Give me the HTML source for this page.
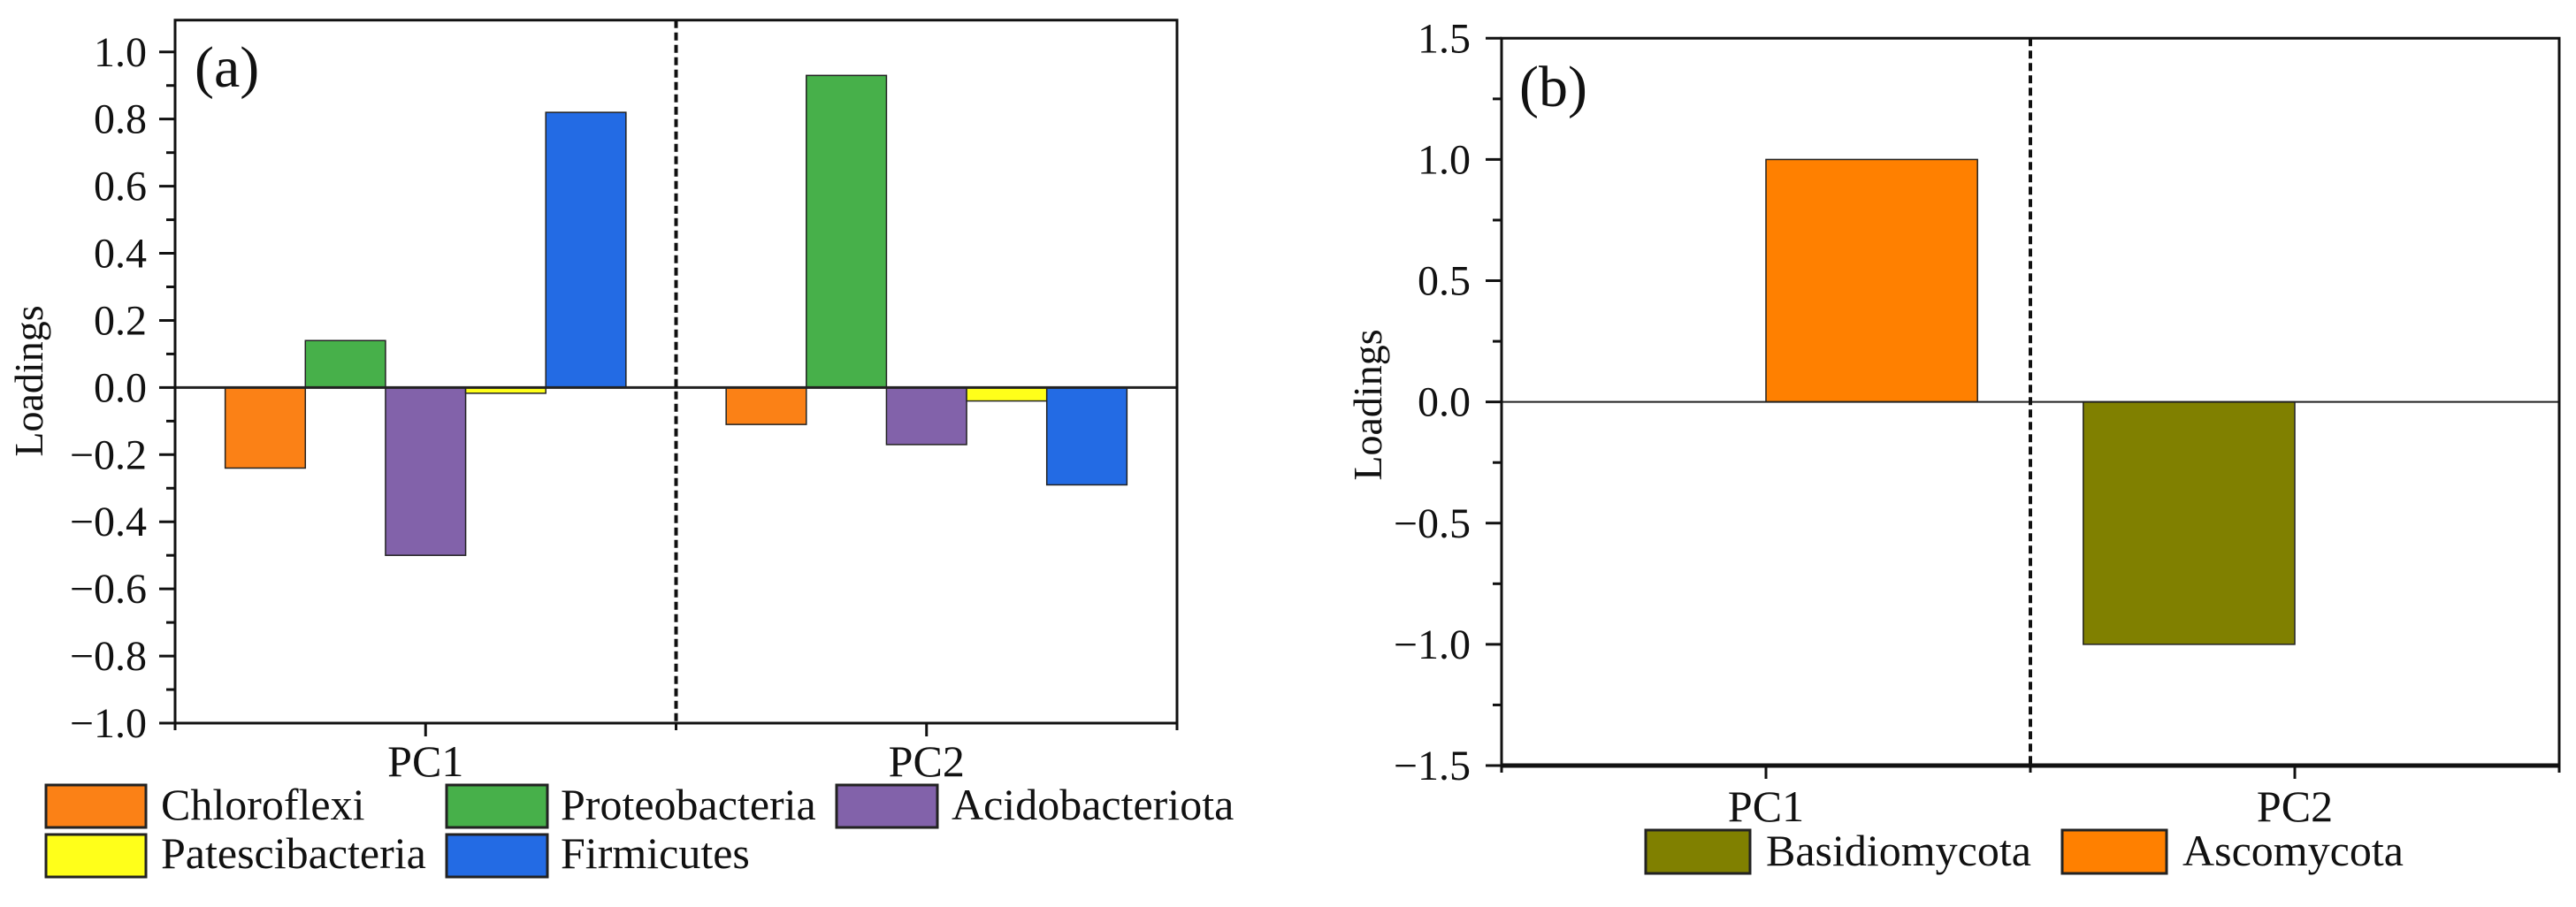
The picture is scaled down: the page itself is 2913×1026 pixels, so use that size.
<!DOCTYPE html>
<html><head><meta charset="utf-8"><style>
html,body{margin:0;padding:0;background:#fff;}
svg{display:block;}
text{font-family:"Liberation Serif","Times New Roman",serif;fill:#111;}
</style></head><body>
<svg id="fig" width="2913" height="1026" viewBox="0 0 2913 1026" xmlns="http://www.w3.org/2000/svg">
<g id="ga"></g>
<g id="gb"></g>
</svg>
<script>
// ---- Chart (a) data ----
const catsA = ["PC1", "PC2"];
const seriesA = ["Chloroflexi", "Proteobacteria", "Acidobacteriota", "Patescibacteria", "Firmicutes"];
const chloroflexi = [-0.24, -0.11];
const proteobacteria = [0.14, 0.93];
const acidobacteriota = [-0.50, -0.17];
const patescibacteria = [-0.017, -0.04];
const firmicutes = [0.82, -0.29];
const ticksA = [-1.0, -0.8, -0.6, -0.4, -0.2, 0.0, 0.2, 0.4, 0.6, 0.8, 1.0];
const tickLabelsA = ["\u22121.0", "\u22120.8", "\u22120.6", "\u22120.4", "\u22120.2", "0.0", "0.2", "0.4", "0.6", "0.8", "1.0"];
// ---- Chart (b) data ----
const catsB = ["PC1", "PC2"];
const seriesB = ["Basidiomycota", "Ascomycota"];
const basidiomycota = [0.0, -1.0];
const ascomycota = [1.0, 0.0];
const ticksB = [-1.5, -1.0, -0.5, 0.0, 0.5, 1.0, 1.5];
const tickLabelsB = ["\u22121.5", "\u22121.0", "\u22120.5", "0.0", "0.5", "1.0", "1.5"];

const NS = "http://www.w3.org/2000/svg";
function mk(parent, tag, attrs, txt) {
  const e = document.createElementNS(NS, tag);
  for (const k in attrs) e.setAttribute(k, attrs[k]);
  if (txt !== undefined) e.textContent = txt;
  parent.appendChild(e);
  return e;
}

function drawChart(g, cfg) {
  const {x0, x1, yTop, yBot, vMin, vMax, cats, series, values, colors, ticks, tickLabels, minorStep} = cfg;
  const ys = v => yBot - (v - vMin) / (vMax - vMin) * (yBot - yTop);
  const unit = (x1 - x0) / cats.length;
  const xc = i => x0 + unit * (i + 0.5);
  const groupW = unit * 0.8, bw = groupW / series.length;
  for (let s = 0; s < series.length; s++) {
    for (let i = 0; i < cats.length; i++) {
      const v = values[s][i];
      if (v === 0) continue;
      const bx = xc(i) - groupW / 2 + s * bw;
      const yA = ys(Math.max(v, 0)), yB = ys(Math.min(v, 0));
      const r = mk(g, "rect", {x: bx, y: yA, width: bw, height: Math.max(yB - yA, 0.5), fill: colors[s], stroke: "#222", "stroke-width": 1.5});
      
      
    }
  }
  const zl = mk(g, "line", {x1: x0, x2: x1, y1: ys(0), y2: ys(0), stroke: "#222", "stroke-width": cfg.zeroW});
  
  
  const dv = mk(g, "line", {x1: (x0 + x1) / 2, x2: (x0 + x1) / 2, y1: yTop, y2: yBot, stroke: "#111", "stroke-width": 4, "stroke-dasharray": "9 5"});
  
  
  const fr = mk(g, "path", {d: `M${x0},${yTop}H${x1}V${yBot}H${x0}Z`, fill: "none", stroke: "#111", "stroke-width": 3});
  
  
  mk(g, "line", {x1: x0, x2: x1, y1: yBot, y2: yBot, stroke: "#111", "stroke-width": cfg.botW});
  for (let k = 0; k < ticks.length; k++) {
    const y = ys(ticks[k]);
    mk(g, "line", {x1: x0 - 18, x2: x0, y1: y, y2: y, stroke: "#111", "stroke-width": 3});
    const t = mk(g, "text", {x: cfg.labelRight, y: y + 16, "text-anchor": "end", "font-size": 48}, tickLabels[k]);
    
    
  }
  for (let v = vMin + minorStep; v < vMax; v += minorStep * 2) {
    const y = ys(v);
    if (y < yTop + 2) continue;
    mk(g, "line", {x1: x0 - 10, x2: x0, y1: y, y2: y, stroke: "#111", "stroke-width": 3});
  }
  const xt = [x0, (x0 + x1) / 2, x1];
  for (const x of xt) mk(g, "line", {x1: x, x2: x, y1: yBot, y2: yBot + 8, stroke: "#111", "stroke-width": 3});
  for (let i = 0; i < cats.length; i++) {
    mk(g, "line", {x1: xc(i), x2: xc(i), y1: yBot, y2: yBot + 15, stroke: "#111", "stroke-width": 3});
    const t = mk(g, "text", {x: xc(i), y: cfg.catBase, "text-anchor": "middle", "font-size": 50}, cats[i]);
    
    
  }
  const yt = mk(g, "text", {x: 0, y: 0, "text-anchor": "middle", "font-size": 46, transform: `translate(${cfg.yTitleX},${cfg.yTitleY}) rotate(-90)`}, "Loadings");
  
  
  const pl = mk(g, "text", {x: cfg.panelX, y: cfg.panelY, "font-size": 66}, cfg.panel);
  
  
  for (const L of cfg.legend) {
    const lg = mk(g, "g", {});
    
    
    mk(lg, "rect", {x: L.sx, y: L.sy, width: L.sw, height: L.sh, fill: L.color, stroke: "#222", "stroke-width": 3});
    mk(lg, "text", {x: L.tx, y: L.ty, "font-size": 50}, L.name);
  }
}

const colorsA = ["#fb8116", "#47b04a", "#8262aa", "#ffff1a", "#236be4"];
drawChart(document.getElementById("ga"), {
  x0: 198, x1: 1331, yTop: 22.7, yBot: 818, vMin: -1.0, vMax: 1.095,
  cats: catsA, series: seriesA,
  values: [chloroflexi, proteobacteria, acidobacteriota, patescibacteria, firmicutes],
  colors: colorsA, ticks: ticksA, tickLabels: tickLabelsA, minorStep: 0.1,
  labelRight: 166, catBase: 878, zeroW: 3, botW: 3,
  yTitleX: 48, yTitleY: 431, panel: "(a)", panelX: 220, panelY: 98,
  legend: [
    {name: "Chloroflexi", color: colorsA[0], sx: 52, sy: 888, sw: 113, sh: 48, tx: 182, ty: 927},
    {name: "Proteobacteria", color: colorsA[1], sx: 505, sy: 888, sw: 114, sh: 48, tx: 634, ty: 927},
    {name: "Acidobacteriota", color: colorsA[2], sx: 946, sy: 888, sw: 114, sh: 48, tx: 1076, ty: 927},
    {name: "Patescibacteria", color: colorsA[3], sx: 52, sy: 944, sw: 113, sh: 48, tx: 182, ty: 982},
    {name: "Firmicutes", color: colorsA[4], sx: 505, sy: 944, sw: 114, sh: 48, tx: 634, ty: 982}
  ]
});

const colorsB = ["#808000", "#ff8000"];
drawChart(document.getElementById("gb"), {
  x0: 1698, x1: 2894, yTop: 43.3, yBot: 866, vMin: -1.5, vMax: 1.5,
  cats: catsB, series: seriesB,
  values: [basidiomycota, ascomycota],
  colors: colorsB, ticks: ticksB, tickLabels: tickLabelsB, minorStep: 0.25,
  labelRight: 1663, catBase: 929, zeroW: 2, botW: 5,
  yTitleX: 1562, yTitleY: 458, panel: "(b)", panelX: 1718, panelY: 120,
  legend: [
    {name: "Basidiomycota", color: colorsB[0], sx: 1861, sy: 939, sw: 118, sh: 49, tx: 1997, ty: 979},
    {name: "Ascomycota", color: colorsB[1], sx: 2332, sy: 939, sw: 118, sh: 49, tx: 2468, ty: 979}
  ]
});
</script>
</body></html>
